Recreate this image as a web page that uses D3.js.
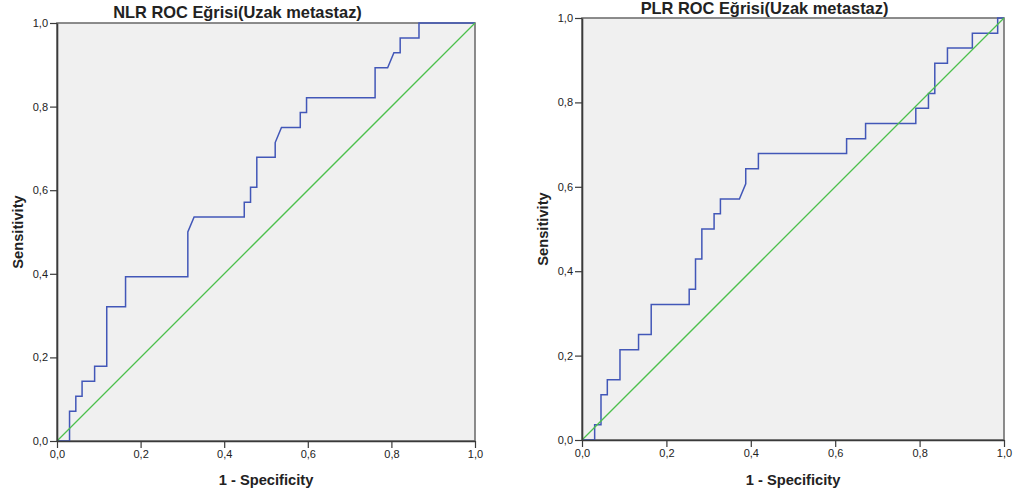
<!DOCTYPE html>
<html>
<head>
<meta charset="utf-8">
<script src="https://cdn.jsdelivr.net/npm/d3@7"></script>
<style>
  html, body { margin: 0; padding: 0; background: #ffffff; }
  svg { display: block; }
  text { font-family: "Liberation Sans", Arial, sans-serif; fill: #222; }
</style>
</head>
<body>
<svg id="chart" width="1019" height="497"></svg>
<script>
// ROC curve vertices: 1 - specificity (x) and sensitivity (y)
const nlrFpr = [0, 0.030, 0.030, 0.045, 0.045, 0.060, 0.060, 0.090, 0.090, 0.119, 0.119, 0.164, 0.164,
  0.313, 0.313, 0.328, 0.448, 0.448, 0.463, 0.463, 0.478, 0.478, 0.522, 0.522, 0.537, 0.582, 0.582,
  0.597, 0.597, 0.761, 0.761, 0.791, 0.806, 0.821, 0.821, 0.866, 0.866, 1];
const nlrTpr = [0, 0, 0.071, 0.071, 0.107, 0.107, 0.143, 0.143, 0.179, 0.179, 0.321, 0.321, 0.393,
  0.393, 0.500, 0.536, 0.536, 0.571, 0.571, 0.607, 0.607, 0.679, 0.679, 0.714, 0.750, 0.750, 0.786,
  0.786, 0.821, 0.821, 0.893, 0.893, 0.929, 0.929, 0.964, 0.964, 1, 1];

const plrFpr = [0, 0.030, 0.030, 0.045, 0.045, 0.060, 0.060, 0.090, 0.090, 0.134, 0.134, 0.164, 0.164,
  0.254, 0.254, 0.269, 0.269, 0.284, 0.284, 0.313, 0.313, 0.328, 0.328, 0.373, 0.388, 0.388, 0.418,
  0.418, 0.627, 0.627, 0.672, 0.672, 0.791, 0.791, 0.821, 0.821, 0.836, 0.836, 0.866, 0.866, 0.925,
  0.925, 0.985, 0.985, 1];
const plrTpr = [0, 0, 0.036, 0.036, 0.107, 0.107, 0.143, 0.143, 0.214, 0.214, 0.250, 0.250, 0.321,
  0.321, 0.357, 0.357, 0.429, 0.429, 0.500, 0.500, 0.536, 0.536, 0.571, 0.571, 0.607, 0.643, 0.643,
  0.679, 0.679, 0.714, 0.714, 0.750, 0.750, 0.786, 0.786, 0.821, 0.821, 0.893, 0.893, 0.929, 0.929,
  0.964, 0.964, 1, 1];

// Reference line of no discrimination
const diagX = [0, 1];
const diagY = [0, 1];

const tickValues = [0, 0.2, 0.4, 0.6, 0.8, 1.0];
const tickLabels = ["0,0", "0,2", "0,4", "0,6", "0,8", "1,0"];

const panels = [
  { title: "NLR ROC Eğrisi(Uzak metastaz)", fpr: nlrFpr, tpr: nlrTpr,
    left: 57, right: 475, top: 23, bottom: 441, titleX: 237.5, titleY: 17.5, yTitleX: 23 },
  { title: "PLR ROC Eğrisi(Uzak metastaz)", fpr: plrFpr, tpr: plrTpr,
    left: 582, right: 1004, top: 18, bottom: 440, titleX: 764.5, titleY: 13.5, yTitleX: 548 }
];

const svg = d3.select("#chart");

panels.forEach(p => {
  const x = d3.scaleLinear().domain([0, 1]).range([p.left, p.right]);
  const y = d3.scaleLinear().domain([0, 1]).range([p.bottom, p.top]);
  const g = svg.append("g");

  // plot area
  g.append("rect")
    .attr("x", x(0)).attr("y", y(1))
    .attr("width", x(1) - x(0)).attr("height", y(0) - y(1))
    .attr("fill", "#f0f0f0")
    .attr("stroke", "#707070")
    .attr("stroke-width", 1.6);

  const line = d3.line().x(d => x(d[0])).y(d => y(d[1]));

  // ROC curve
  g.append("path")
    .datum(p.fpr.map((v, i) => [v, p.tpr[i]]))
    .attr("d", line)
    .attr("fill", "none")
    .attr("stroke", "#4257b8")
    .attr("stroke-width", 1.5)
    .attr("stroke-linejoin", "miter");

  // diagonal
  g.append("path")
    .datum(diagX.map((v, i) => [v, diagY[i]]))
    .attr("d", line)
    .attr("fill", "none")
    .attr("stroke", "#4cc04c")
    .attr("stroke-width", 1.3);

  const fmt = d => tickLabels[tickValues.indexOf(d)];

  const xAxis = g.append("g")
    .attr("transform", `translate(0,${y(0)})`)
    .call(d3.axisBottom(x).tickValues(tickValues).tickFormat(fmt).tickSize(7).tickPadding(2).tickSizeOuter(0));
  const yAxis = g.append("g")
    .attr("transform", `translate(${x(0)},0)`)
    .call(d3.axisLeft(y).tickValues(tickValues).tickFormat(fmt).tickSize(7).tickPadding(2).tickSizeOuter(0));

  [xAxis, yAxis].forEach(a => {
    a.select(".domain").attr("stroke", "#3a3a3a").attr("stroke-width", 1.6);
    a.selectAll(".tick line").attr("stroke", "#3a3a3a").attr("stroke-width", 1.2);
    a.selectAll(".tick text")
      .attr("fill", "#222")
      .style("font-family", "'Liberation Sans', Arial, sans-serif")
      .style("font-size", "11px");
  });

  // titles
  g.append("text")
    .attr("x", p.titleX).attr("y", p.titleY)
    .attr("text-anchor", "middle")
    .style("font-size", "16.4px").style("font-weight", "bold")
    .text(p.title);

  g.append("text")
    .attr("x", (x(0) + x(1)) / 2).attr("y", 485)
    .attr("text-anchor", "middle")
    .style("font-size", "14.7px").style("font-weight", "bold")
    .text("1 - Specificity");

  g.append("text")
    .attr("transform", `translate(${p.yTitleX},${(y(0) + y(1)) / 2}) rotate(-90)`)
    .attr("text-anchor", "middle")
    .style("font-size", "14.7px").style("font-weight", "bold")
    .text("Sensitivity");
});
</script>
</body>
</html>
